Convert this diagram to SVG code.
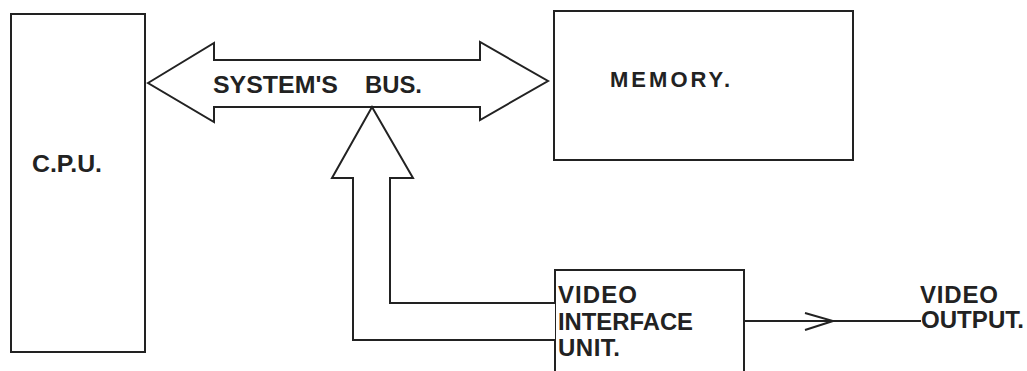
<svg xmlns="http://www.w3.org/2000/svg" width="1027" height="371" viewBox="0 0 1027 371">
<style>
.box{fill:#fff;stroke:#222;stroke-width:2;stroke-linejoin:miter}
.ln{fill:none;stroke:#222;stroke-width:2;stroke-linejoin:miter}
.t{font-family:"Liberation Sans",Arial,sans-serif;font-weight:bold;fill:#222;font-size:23px}
.t24{font-size:24px}
</style>
<rect width="1027" height="371" fill="#fff"/>
<g id="cpu">
<rect class="box" x="11" y="14" width="134" height="338"/>
<text class="t" x="32" y="172" textLength="70" lengthAdjust="spacingAndGlyphs">C.P.U.</text>
</g>
<g id="memory">
<rect class="box" x="554" y="11" width="299" height="149"/>
<text class="t" style="font-size:22px" x="610" y="87" textLength="120">MEMORY.</text>
</g>
<g id="system-bus">
<polygon class="box" points="148,83 214,43 214,60 480,60 480,42 548,81 480,120 480,107 214,107 214,122"/>
<text class="t" x="213" y="93" textLength="125" lengthAdjust="spacingAndGlyphs">SYSTEM'S</text>
<text class="t" x="365" y="93" textLength="57" lengthAdjust="spacingAndGlyphs">BUS.</text>
</g>
<g id="video-interface-unit">
<rect class="box" x="555" y="270" width="189" height="130"/>
<text class="t t24" x="558" y="303" textLength="79">VIDEO</text>
<text class="t t24" x="558" y="330" textLength="135" lengthAdjust="spacingAndGlyphs">INTERFACE</text>
<text class="t t24" x="558" y="356" textLength="62">UNIT.</text>
</g>
<g id="video-output">
<text class="t t24" x="920" y="303" textLength="78">VIDEO</text>
<text class="t t24" x="921" y="328" textLength="103" lengthAdjust="spacingAndGlyphs">OUTPUT.</text>
</g>
<g id="connectors">
<path class="box" d="M555,303 L390,303 L390,178 L413,178 L372,107 L332,178 L353,178 L353,340 L555,340"/>
<path class="ln" d="M744,321 L921,321"/>
<path class="ln" d="M805,313 L833,321 L805,330"/>
</g>
</svg>
